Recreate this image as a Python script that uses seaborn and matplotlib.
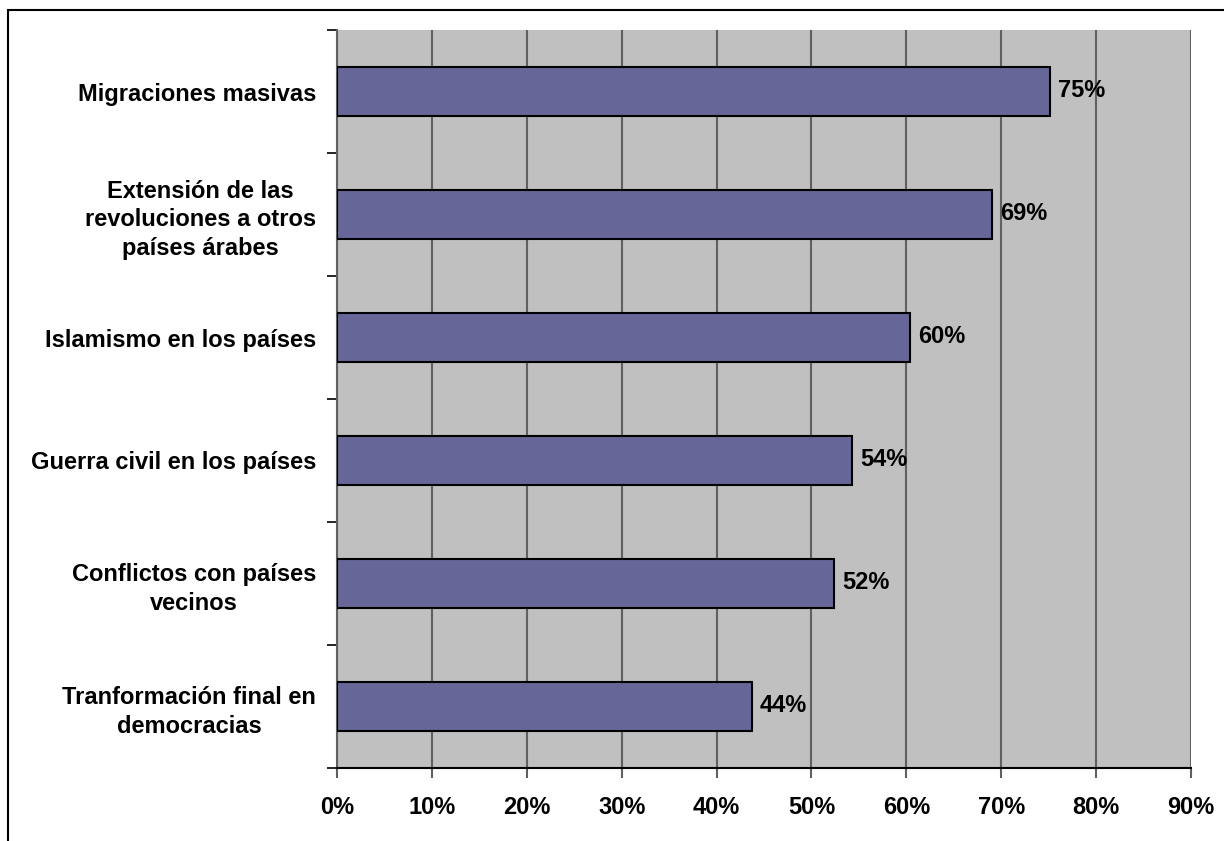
"""
Horizontal bar chart: percepcion de consecuencias de las revoluciones arabes.
"""
import matplotlib
matplotlib.use("Agg")
import matplotlib.pyplot as plt
from matplotlib.patches import Rectangle
from matplotlib.ticker import FixedLocator, PercentFormatter
import numpy as np
import pandas as pd
import seaborn as sns

# Data
categories = [
    "Migraciones masivas",
    "Extensión de las\nrevoluciones a otros\npaíses árabes",
    "Islamismo en los países",
    "Guerra civil en los países",
    "Conflictos con países\nvecinos",
    "Tranformación final en\ndemocracias",
]
values = [75.1, 69.0, 60.4, 54.3, 52.4, 43.7]
value_labels = ["75%", "69%", "60%", "54%", "52%", "44%"]
x_ticks = [0, 10, 20, 30, 40, 50, 60, 70, 80, 90]

BAR_COLOR = "#666699"
PLOT_BG = "#C0C0C0"
GRID_COLOR = "#606060"
FONT_SIZE = 17

sns.set_style("white")
plt.rcParams["font.family"] = ["Liberation Sans", "DejaVu Sans"]
plt.rcParams["font.weight"] = "bold"
plt.rcParams["text.color"] = "black"
plt.rcParams["xtick.labelcolor"] = "black"
plt.rcParams["ytick.labelcolor"] = "black"

df = pd.DataFrame({"categoria": categories, "valor": values})

fig = plt.figure(figsize=(12.24, 8.41), dpi=100)
ax = fig.add_axes([337 / 1224, 1 - 768 / 841, (1191 - 337) / 1224, (768 - 30) / 841])
ax.set_facecolor(PLOT_BG)

sns.barplot(data=df, x="valor", y="categoria", orient="h", color=BAR_COLOR,
            saturation=1, width=0.4, edgecolor="black", linewidth=1.5, ax=ax, zorder=3)

ax.set_xlim(0, 90)
ax.set_ylim(len(categories) - 0.5, -0.5)
ax.set_xticks(x_ticks)
ax.xaxis.set_major_formatter(PercentFormatter(decimals=0))
ax.xaxis.grid(True, color=GRID_COLOR, linewidth=1.5, zorder=1)
ax.set_axisbelow(True)

# y ticks sit between categories, labels in the middle
ax.yaxis.set_minor_locator(FixedLocator(np.arange(-0.5, len(categories), 1)))
ax.tick_params(axis="y", which="major", length=0, pad=15)
ax.tick_params(axis="y", which="minor", length=7, width=1.2, color="black", left=True)
ax.tick_params(axis="x", which="major", length=7, width=1.5, color=GRID_COLOR, pad=13, bottom=True)
for lbl in ax.get_yticklabels():
    lbl.set_fontsize(FONT_SIZE)
    lbl.set_fontweight("bold")
    lbl.set_color("black")
    lbl.set_horizontalalignment("right")
    lbl.set_multialignment("center")
    lbl.set_linespacing(1.33)
for lbl in ax.get_xticklabels():
    lbl.set_fontsize(FONT_SIZE)
    lbl.set_fontweight("bold")
    lbl.set_color("black")

ax.set_xlabel("")
ax.set_ylabel("")

for side in ["top", "right"]:
    ax.spines[side].set_visible(False)
ax.spines["left"].set_color(GRID_COLOR)
ax.spines["left"].set_linewidth(1.5)
ax.spines["bottom"].set_color("black")
ax.spines["bottom"].set_linewidth(1.5)

for i, (v, txt) in enumerate(zip(values, value_labels)):
    ax.annotate(txt, (v, i), xytext=(6, 1), textcoords="offset points",
                va="center", ha="left", fontsize=FONT_SIZE, fontweight="bold",
                color="black", zorder=4)

# outer chart frame (cut off at right and bottom in the original)
fig.patches.append(Rectangle((8 / 1224, -0.05), 1.1, 1 - 10 / 841 + 0.05,
                             transform=fig.transFigure, fill=False,
                             edgecolor="black", linewidth=1.5))

fig.savefig("out.png", dpi=100, facecolor="white")
